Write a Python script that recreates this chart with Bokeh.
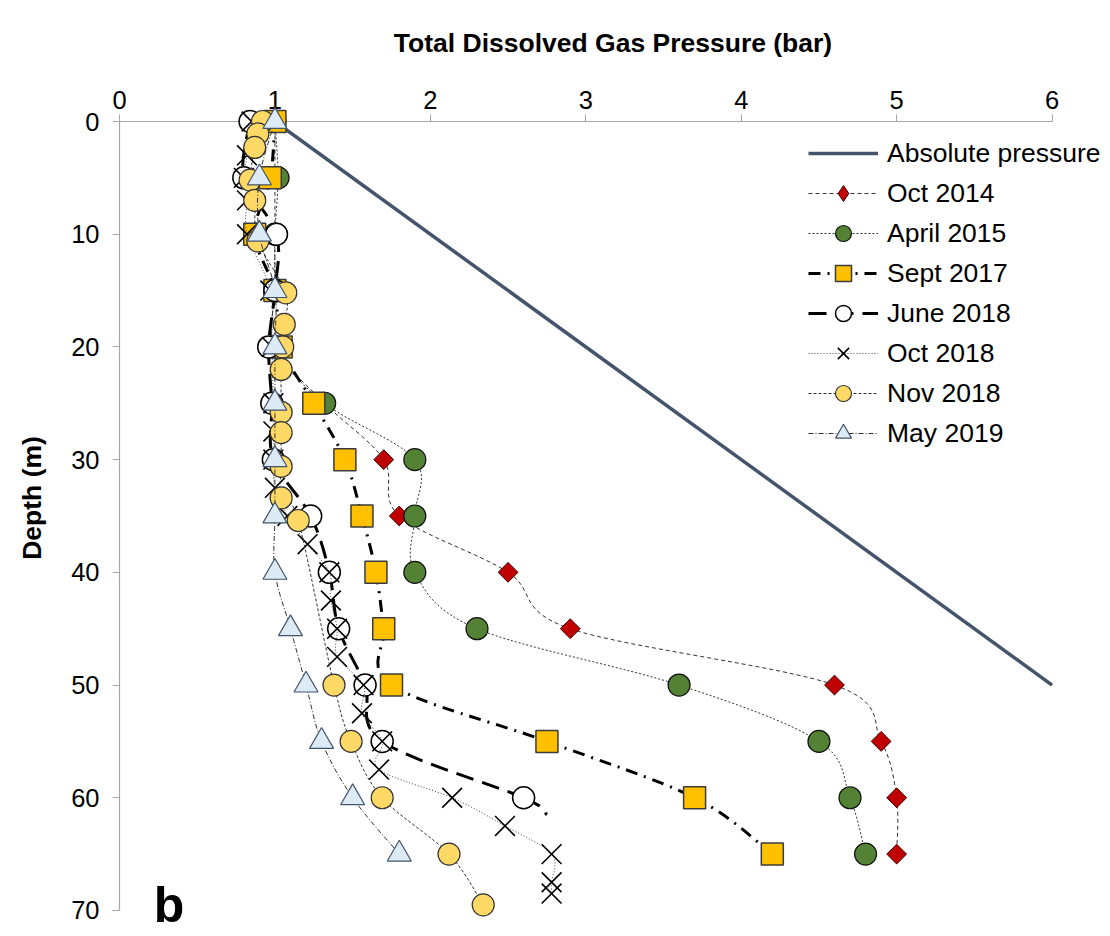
import numpy as np
from bokeh.plotting import figure
from bokeh.models import Range1d, FixedTicker, Legend, LegendItem, Label
from bokeh.core.properties import value
from bokeh.embed import file_html
from bokeh.resources import INLINE

# ---------------- data ----------------
x_ticks = [0, 1, 2, 3, 4, 5, 6]
y_ticks = [0, 10, 20, 30, 40, 50, 60, 70]
x_title = "Total Dissolved Gas Pressure (bar)"
y_title = "Depth (m)"

abs_depth = [0, 50]
abs_pressure = [1.0, 6.0]

oct14_depth = [0, 5, 10, 15, 20, 25, 30, 35, 40, 45, 50, 55, 60, 65]
oct14_tdgp = [1.0, 1.0, 1.0, 1.0, 1.0, 1.32, 1.70, 1.80, 2.50, 2.90, 4.60, 4.90, 5.00, 5.00]

apr15_depth = [0, 5, 10, 15, 20, 25, 30, 35, 40, 45, 50, 55, 60, 65]
apr15_tdgp = [1.0, 1.02, 1.0, 1.0, 1.0, 1.32, 1.90, 1.90, 1.90, 2.30, 3.60, 4.50, 4.70, 4.80]

sep17_depth = [0, 5, 10, 15, 20, 25, 30, 35, 40, 45, 50, 55, 60, 65]
sep17_tdgp = [1.0, 0.97, 0.87, 1.0, 1.04, 1.25, 1.45, 1.56, 1.65, 1.70, 1.75, 2.75, 3.70, 4.20]

jun18_depth = [0, 5, 10, 15, 20, 25, 30, 35, 40, 45, 50, 55, 60]
jun18_tdgp = [0.84, 0.80, 1.01, 1.0, 0.96, 0.98, 0.99, 1.23, 1.35, 1.41, 1.58, 1.69, 2.60]
jun18_line_end_depth = [61.5]
jun18_line_end_tdgp = [2.75]

oct18_depth = [0, 3, 5, 7, 10, 15, 20, 25, 27.5, 30, 32.5, 35, 37.5, 40, 42.5, 45, 47.5,
               50, 52.5, 55, 57.5, 60, 62.5, 65, 67.5, 68.5]
oct18_tdgp = [0.85, 0.82, 0.80, 0.82, 0.82, 0.97, 0.98, 0.99, 0.99, 0.99, 1.0, 1.08, 1.21,
              1.35, 1.36, 1.40, 1.40, 1.57, 1.56, 1.69, 1.67, 2.14, 2.48, 2.78, 2.78, 2.78]

nov18_depth = [0, 1.1, 2.3, 5.2, 7, 10.6, 15.2, 18, 20, 22, 25.8, 27.6, 30.6, 33.4, 35.4,
               50, 55, 60, 65, 69.5]
nov18_tdgp = [0.92, 0.89, 0.87, 0.84, 0.87, 0.89, 1.07, 1.06, 1.05, 1.04, 1.04, 1.04, 1.04,
              1.04, 1.15, 1.38, 1.49, 1.69, 2.12, 2.34]

may19_depth = [0, 5, 10, 15, 20, 25, 30, 35, 40, 45, 50, 55, 60, 65]
may19_tdgp = [1.0, 0.90, 0.90, 1.0, 1.0, 1.0, 1.0, 1.0, 1.0, 1.10, 1.20, 1.30, 1.50, 1.80]

FONT = "Liberation Sans"


def smooth_segments(xs, ys, t=1.0 / 6.0):
    """Cubic Bezier control points (Catmull-Rom) through the given data points."""
    x = np.asarray(xs, float)
    y = np.asarray(ys, float)
    n = len(x)
    xp = np.concatenate([[x[0]], x, [x[-1]]])
    yp = np.concatenate([[y[0]], y, [y[-1]]])
    i = np.arange(n - 1)
    return dict(
        x0=x[i], y0=y[i], x1=x[i + 1], y1=y[i + 1],
        cx0=x[i] + (xp[i + 2] - xp[i]) * t, cy0=y[i] + (yp[i + 2] - yp[i]) * t,
        cx1=x[i + 1] - (xp[i + 3] - xp[i + 1]) * t, cy1=y[i + 1] - (yp[i + 3] - yp[i + 1]) * t,
    )


p = figure(width=1110, height=936,
           x_range=Range1d(0, 6.35), y_range=Range1d(71.6, 0),
           x_axis_location="above", y_axis_location="left",
           toolbar_location=None, output_backend="svg",
           min_border_left=119, min_border_right=4, min_border_top=121, min_border_bottom=8)
p.outline_line_color = None
p.grid.visible = False
p.background_fill_color = "white"
p.border_fill_color = "white"

p.xaxis.ticker = FixedTicker(ticks=x_ticks)
p.yaxis.ticker = FixedTicker(ticks=y_ticks)
p.xaxis.bounds = (0, 6)
p.yaxis.bounds = (0, 70)
p.xaxis.axis_label = x_title
for ax in (p.xaxis[0], p.yaxis[0]):
    ax.axis_line_color = "#A6A6A6"
    ax.axis_line_width = 1.2
    ax.major_tick_line_color = "#A6A6A6"
    ax.major_tick_out = 7
    ax.major_tick_in = 0
    ax.minor_tick_line_color = None
    ax.major_label_text_font = FONT
    ax.major_label_text_font_size = "25.5px"
    ax.major_label_text_color = "black"
    ax.axis_label_text_font = FONT
    ax.axis_label_text_font_size = "26.5px"
    ax.axis_label_text_font_style = "bold"
    ax.axis_label_text_color = "black"
p.xaxis.major_label_standoff = 6
p.xaxis.axis_label_standoff = 30
p.yaxis.major_label_standoff = 13

items = []

r_abs = p.line(abs_pressure, abs_depth, line_color="#44546A", line_width=3.5)
items.append(LegendItem(label="Absolute pressure", renderers=[r_abs]))

series = [
    ("Oct 2014", oct14_tdgp, oct14_depth, dict(line_color="#333333", line_width=1, line_dash="4 3"),
     dict(marker="square", angle=np.pi / 4, size=14, fill_color="#C00000", line_color="#3a0000", line_width=1)),
    ("April 2015", apr15_tdgp, apr15_depth, dict(line_color="#333333", line_width=1, line_dash="2 2"),
     dict(marker="circle", size=22, fill_color="#548235", line_color="#111111", line_width=1.2)),
    ("Sept 2017", sep17_tdgp, sep17_depth, dict(line_color="black", line_width=3, line_dash="12 7 2 7"),
     dict(marker="square", size=22, fill_color="#FFC000", line_color="#3b3b3b", line_width=1.5)),
    ("June 2018", jun18_tdgp + jun18_line_end_tdgp, jun18_depth + jun18_line_end_depth,
     dict(line_color="black", line_width=3, line_dash="18 9"),
     dict(marker="circle", size=22, fill_color="white", line_color="black", line_width=1.5)),
    ("Oct 2018", oct18_tdgp, oct18_depth, dict(line_color="#444444", line_width=1, line_dash="1 2"),
     dict(marker="x", size=28, line_color="black", line_width=1.6)),
    ("Nov 2018", nov18_tdgp, nov18_depth, dict(line_color="#333333", line_width=1, line_dash="3 2"),
     dict(marker="circle", size=22, fill_color="#FFD966", line_color="#333333", line_width=1.2)),
    ("May 2019", may19_tdgp, may19_depth, dict(line_color="#333333", line_width=1, line_dash="5 2 1 2"),
     dict(marker="triangle", size=24, fill_color="#DDEBF7", line_color="#44546A", line_width=1.2)),
]

for name, xs, ys, lstyle, mstyle in series:
    seg = smooth_segments(xs, ys)
    r_line = p.bezier(x0=seg["x0"], y0=seg["y0"], x1=seg["x1"], y1=seg["y1"],
                      cx0=seg["cx0"], cy0=seg["cy0"], cx1=seg["cx1"], cy1=seg["cy1"],
                      level="overlay", **lstyle)
    if name == "June 2018":
        mx, my = jun18_tdgp, jun18_depth
    else:
        mx, my = xs, ys
    r_mk = p.scatter(mx, my, level="overlay", **mstyle)
    legend_marker = r_mk
    if name == "Oct 2014":
        legend_marker = p.scatter(mx, my, marker="diamond", size=22, fill_color="#C00000",
                                  line_color="#3a0000", line_width=1, visible=False)
    items.append(LegendItem(label=name, renderers=[r_line, legend_marker]))

legend = Legend(items=items, location=(689, 475), glyph_width=70, glyph_height=40,
                spacing=0, label_standoff=9, padding=0, margin=0,
                border_line_color=None, background_fill_alpha=0,
                label_text_font=FONT, label_text_font_size="26.5px", label_text_color="black")
p.add_layout(legend)

# y-axis title, slightly above the middle of the axis as in the original
p.text(x=[-0.56], y=[33.4], text=[y_title], angle=np.pi / 2,
       text_font=value(FONT), text_font_size=value("26.5px"), text_font_style="bold",
       text_align="center", text_baseline="middle", text_color="black", level="overlay")

p.add_layout(Label(x=0.22, y=67.0, text="b", text_font=FONT, text_font_size="50px",
                   text_font_style="bold", text_baseline="top", text_color="black",
                   level="overlay"))

open("out.html", "w").write(file_html(p, INLINE))
